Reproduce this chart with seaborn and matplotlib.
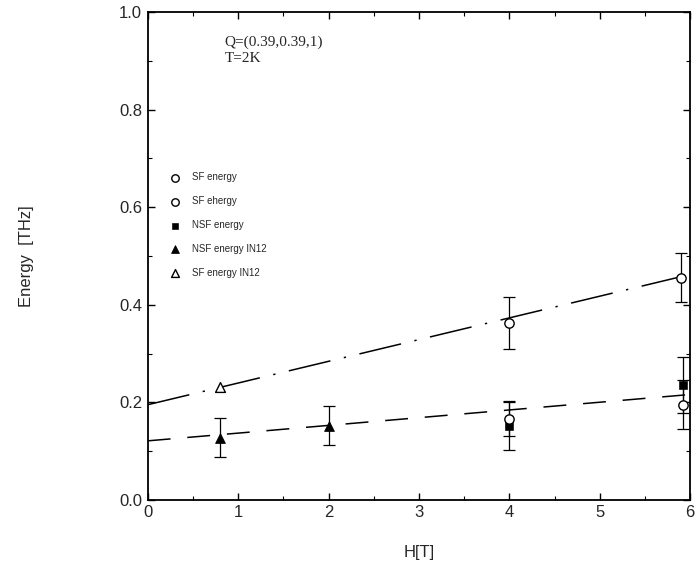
import matplotlib
matplotlib.use("Agg")
import matplotlib.pyplot as plt
import seaborn as sns
import pandas as pd
from matplotlib.ticker import MultipleLocator

# ---- data ----
sf_upper_H = [4.0, 5.9]
sf_upper_E = [0.362, 0.455]
sf_upper_err = [0.053, 0.05]

sf_lower_H = [4.0, 5.92]
sf_lower_E = [0.165, 0.195]
sf_lower_err = [0.035, 0.05]

nsf_H = [4.0, 5.92]
nsf_E = [0.152, 0.235]
nsf_err = [0.05, 0.057]

nsf_in12_H = [0.8, 2.0]
nsf_in12_E = [0.127, 0.152]
nsf_in12_err = [0.04, 0.04]

sf_in12_H = [0.8]
sf_in12_E = [0.232]

fit_H = [0.0, 6.0]
sf_fit_E = [0.195, 0.462]
nsf_fit_E = [0.121, 0.216]

legend_labels = ["SF energy", "SF ehergy", "NSF energy", "NSF energy IN12", "SF energy IN12"]

sns.set_theme(style="white")
plt.rcParams["font.family"] = ["Liberation Sans", "DejaVu Sans"]

fig = plt.figure(figsize=(7.0, 5.7), dpi=100)
ax = fig.add_axes([0.211, 0.123, 0.775, 0.856])

# fit lines
fit_df = pd.DataFrame({"H": fit_H * 2,
                       "E": sf_fit_E + nsf_fit_E,
                       "fit": ["sf"] * 2 + ["nsf"] * 2})
sns.lineplot(data=fit_df[fit_df.fit == "sf"], x="H", y="E", ax=ax,
             color="black", lw=1.1, legend=False)
ax.lines[-1].set_dashes([28, 9, 1.5, 9])
sns.lineplot(data=fit_df[fit_df.fit == "nsf"], x="H", y="E", ax=ax,
             color="black", lw=1.1, legend=False)
ax.lines[-1].set_dashes([15, 11])

# error bars
for H, E, err in [(sf_upper_H, sf_upper_E, sf_upper_err),
                  (sf_lower_H, sf_lower_E, sf_lower_err),
                  (nsf_H, nsf_E, nsf_err),
                  (nsf_in12_H, nsf_in12_E, nsf_in12_err)]:
    ax.errorbar(H, E, yerr=err, fmt="none", ecolor="black", elinewidth=0.9,
                capsize=4, capthick=0.9, zorder=2)

ms = 45
sns.scatterplot(x=sf_upper_H, y=sf_upper_E, marker="o", s=ms, facecolor="white",
                edgecolor="black", linewidth=1.0, ax=ax, label=legend_labels[0], zorder=3)
sns.scatterplot(x=sf_lower_H, y=sf_lower_E, marker="o", s=ms, facecolor="white",
                edgecolor="black", linewidth=1.0, ax=ax, label=legend_labels[1], zorder=4)
sns.scatterplot(x=nsf_H, y=nsf_E, marker="s", s=30, color="black",
                edgecolor="black", ax=ax, label=legend_labels[2], zorder=3)
sns.scatterplot(x=nsf_in12_H, y=nsf_in12_E, marker="^", s=50, color="black",
                edgecolor="black", ax=ax, label=legend_labels[3], zorder=3)
sns.scatterplot(x=sf_in12_H, y=sf_in12_E, marker="^", s=50, facecolor="white",
                edgecolor="black", linewidth=1.0, ax=ax, label=legend_labels[4], zorder=3)

ax.set_xlim(0, 6)
ax.set_ylim(0, 1.0)
ax.xaxis.set_major_locator(MultipleLocator(1))
ax.xaxis.set_minor_locator(MultipleLocator(0.5))
ax.yaxis.set_major_locator(MultipleLocator(0.2))
ax.yaxis.set_minor_locator(MultipleLocator(0.1))
ax.set_yticks([0, 0.2, 0.4, 0.6, 0.8, 1.0])
ax.set_yticklabels(["0.0", "0.2", "0.4", "0.6", "0.8", "1.0"])
ax.tick_params(which="both", direction="in", top=True, right=True,
               bottom=True, left=True, color="black")
ax.tick_params(which="major", length=5, width=1, labelsize=12, pad=4)
ax.tick_params(which="minor", length=3, width=0.8)
for s in ax.spines.values():
    s.set_color("black")
    s.set_linewidth(1.3)

ax.set_xlabel("H[T]", fontsize=12, labelpad=18)
ax.set_ylabel("Energy  [THz]", fontsize=12, labelpad=61)

ax.text(0.142, 0.952, "Q=(0.39,0.39,1)\nT=2K", transform=ax.transAxes,
        fontsize=11, va="top", ha="left", family=["Liberation Serif", "DejaVu Serif"],
        linespacing=1.35)

leg = ax.legend(loc="upper left", bbox_to_anchor=(0.02, 0.685), frameon=False,
                fontsize=7, labelspacing=1.42, handletextpad=0.7, borderpad=0.2,
                markerscale=0.8)

fig.savefig("out.png", dpi=100)
